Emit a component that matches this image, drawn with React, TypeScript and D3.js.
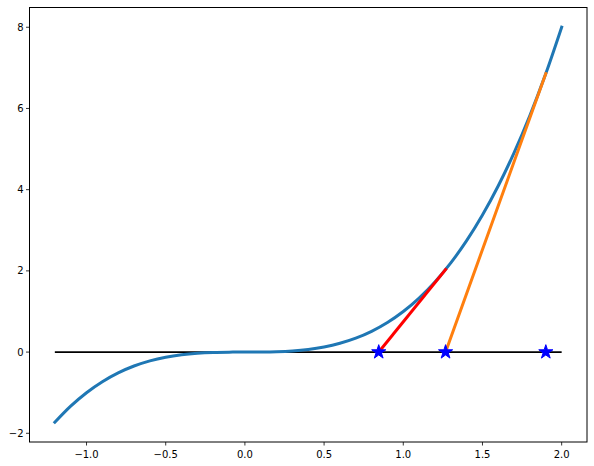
import React from 'react'
import * as d3 from 'd3'

// curve points (y = x^3 shape)
const curveX = [-1.2, -1.1, -1.0, -0.9, -0.8, -0.7, -0.6, -0.5, -0.4, -0.3, -0.2, -0.1, 0.0, 0.1, 0.2, 0.3, 0.4, 0.5, 0.6, 0.7, 0.8, 0.9, 1.0, 1.1, 1.2, 1.3, 1.4, 1.5, 1.6, 1.7, 1.8, 1.9, 2.0]
const curveY = [-1.728, -1.331, -1.0, -0.729, -0.512, -0.343, -0.216, -0.125, -0.064, -0.027, -0.008, -0.001, 0.0, 0.001, 0.008, 0.027, 0.064, 0.125, 0.216, 0.343, 0.512, 0.729, 1.0, 1.331, 1.728, 2.197, 2.744, 3.375, 4.096, 4.913, 5.832, 6.859, 8.0]

// tangent segments
const orangeSeg = [[1.9, 6.859], [1.267, 0]]
const redSeg = [[1.267, 2.034], [0.845, 0]]
const baseSeg = [[-1.2, 0], [2.0, 0]]

// newton iterates
const starX = [1.9, 1.267, 0.845]

const xTicks = [-1.0, -0.5, 0.0, 0.5, 1.0, 1.5, 2.0]
const yTicks = [-2, 0, 2, 4, 6, 8]

const W = 594
const H = 466
const left = 29.5
const right = 587
const top = 7.5
const bottom = 442

export default function App() {
  const x = d3.scaleLinear().domain([-1.36, 2.16]).range([left, right])
  const y = d3.scaleLinear().domain([-2.2144, 8.4864]).range([bottom, top])

  const pts: [number, number][] = curveX.map((v, i) => [v, curveY[i]])
  const line = d3.line<number[]>().x(d => x(d[0])).y(d => y(d[1]))
  const curve = d3.line<[number, number]>().x(d => x(d[0])).y(d => y(d[1])).curve(d3.curveCatmullRom)
  const star = d3.symbol().type(d3.symbolStar).size(62)()

  const font = 'DejaVu Sans, sans-serif'

  return (
    <svg width={W} height={H} style={{ position: 'absolute', left: 0, top: 0, background: 'white' }}>
      <path d={line(baseSeg) || ''} stroke="#000" strokeWidth={1.8} fill="none" />
      <path d={curve(pts) || ''} stroke="#1f77b4" strokeWidth={3} fill="none" strokeLinecap="square" />
      <path d={line(orangeSeg) || ''} stroke="#ff7f0e" strokeWidth={3} fill="none" strokeLinecap="square" />
      <path d={line(redSeg) || ''} stroke="red" strokeWidth={3} fill="none" strokeLinecap="square" />
      {starX.map((s, i) => (
        <path key={i} d={star || ''} transform={`translate(${x(s)},${y(0)})`} fill="blue" stroke="blue" strokeWidth={1} />
      ))}
      <rect x={left} y={top} width={right - left} height={bottom - top} fill="none" stroke="#000" strokeWidth={1} />
      {xTicks.map(t => (
        <g key={t} transform={`translate(${x(t)},${bottom})`}>
          <line y2={3.5} stroke="#000" strokeWidth={0.8} />
          <text y={16} textAnchor="middle" fontFamily={font} fontSize={10} fill="#000">
            {t.toFixed(1).replace('-', '\u2212')}
          </text>
        </g>
      ))}
      {yTicks.map(t => (
        <g key={t} transform={`translate(${left},${y(t)})`}>
          <line x2={-3.5} stroke="#000" strokeWidth={0.8} />
          <text x={-6} dy="0.35em" textAnchor="end" fontFamily={font} fontSize={10} fill="#000">
            {String(t).replace('-', '\u2212')}
          </text>
        </g>
      ))}
    </svg>
  )
}
